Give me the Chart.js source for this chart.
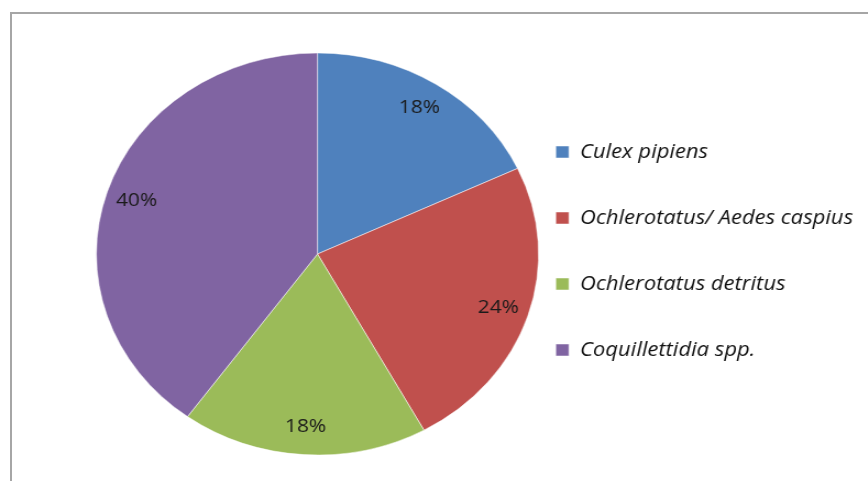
<!DOCTYPE html>
<html>
<head>
<meta charset="utf-8">
<script src="https://cdn.jsdelivr.net/npm/chart.js@4/dist/chart.umd.min.js"></script>
<style>
    html, body { margin: 0; padding: 0; background: #fff; overflow: hidden; }
    #frame {
        position: absolute; left: 10px; top: 12px; width: 870px; height: 480px;
        border-left: 2px solid #a6a6a6; border-top: 2px solid #a6a6a6;
    }
    #wrap {
        position: absolute; left: 0; top: 0; width: 789px; height: 481px;
        transform: scaleX(1.1); transform-origin: 0 0;
    }
</style>
</head>
<body>
<div id="frame"></div>
<div id="wrap"><canvas id="pieChart" width="789" height="481"></canvas></div>
<script>
// Species share of catches
const species = ['Culex pipiens', 'Ochlerotatus/ Aedes caspius', 'Ochlerotatus detritus', 'Coquillettidia spp.'];
const shares = [18, 24, 18, 40];
const sliceColors = ['#4f81bd', '#c0504d', '#9bbb59', '#8064a2'];

// Percent labels drawn inside each slice, near the rim
const sliceLabels = {
    id: 'sliceLabels',
    afterDatasetsDraw(chart) {
        const ctx = chart.ctx;
        const meta = chart.getDatasetMeta(0);
        ctx.save();
        ctx.font = '19px "Open Sans"';
        ctx.fillStyle = '#1a1a1a';
        ctx.textAlign = 'center';
        ctx.textBaseline = 'middle';
        meta.data.forEach((arc, i) => {
            const p = arc.getProps(['x', 'y', 'startAngle', 'endAngle', 'outerRadius'], true);
            const mid = (p.startAngle + p.endAngle) / 2;
            const r = p.outerRadius * 0.86;
            ctx.fillText(shares[i] + '%', p.x + Math.cos(mid) * r, p.y + Math.sin(mid) * r);
        });
        ctx.restore();
    }
};

// nudge the legend a few px up, the original sits slightly above the pie centre
const legendNudge = {
    id: 'legendNudge',
    afterLayout(chart) {
        chart.legend.top -= 3;
        chart.legend.bottom -= 3;
    }
};

document.addEventListener('DOMContentLoaded', function() {
    const ctx = document.getElementById('pieChart').getContext('2d');
    new Chart(ctx, {
        type: 'pie',
        data: {
            labels: species,
            datasets: [{
                data: shares,
                backgroundColor: sliceColors,
                borderColor: '#ffffff',
                borderWidth: 0.5,
                hoverOffset: 0,
                radius: 201,
                clip: false
            }]
        },
        options: {
            responsive: false,
            animation: false,
            layout: {
                padding: { top: 53, bottom: 26, left: 118, right: 3.5 }
            },
            plugins: {
                tooltip: { enabled: false },
                legend: {
                    position: 'right',
                    labels: {
                        boxWidth: 12,
                        boxHeight: 12,
                        padding: 46,
                        color: '#111111',
                        font: { family: '"Open Sans"', size: 20, style: 'italic' }
                    }
                }
            }
        },
        plugins: [sliceLabels, legendNudge]
    });
});
</script>
</body>
</html>
